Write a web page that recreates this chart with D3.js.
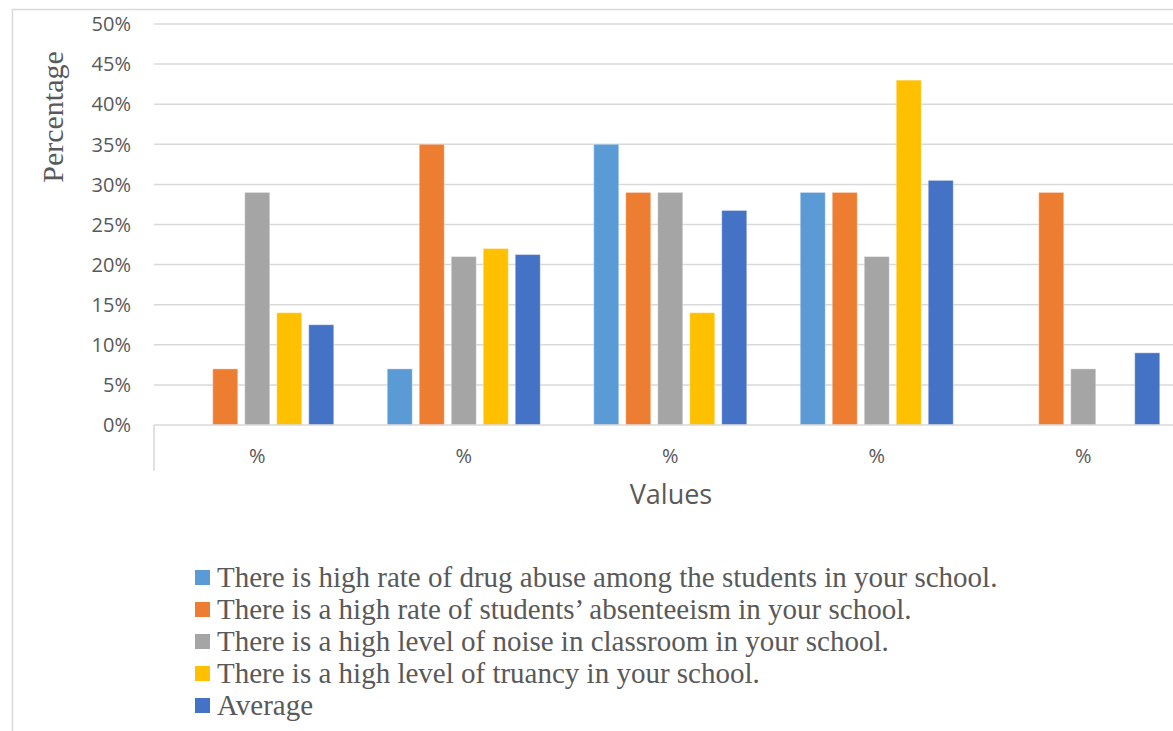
<!DOCTYPE html>
<html>
<head>
<meta charset="utf-8">
<script src="https://cdn.jsdelivr.net/npm/d3@7"></script>
<style>
  html, body { margin: 0; padding: 0; background: #fff; }
  svg { display: block; }
</style>
</head>
<body>
<svg id="chart" width="1173" height="731"></svg>
<script>
// Category labels along the x axis
const categories = ["%", "%", "%", "%", "%"];

// Series names (legend order)
const seriesNames = [
  "There is high rate of drug abuse among the students in your school.",
  "There is a high rate of students\u2019 absenteeism in your school.",
  "There is a high level of noise in classroom in your school.",
  "There is a high level of truancy in your school.",
  "Average"
];

// Values per series (percent), one per category
const drugAbuse   = [0, 7, 35, 29, 0];
const absenteeism = [7, 35, 29, 29, 29];
const noise       = [29, 21, 29, 21, 7];
const truancy     = [14, 22, 14, 43, 0];
const average     = [12.5, 21.25, 26.75, 30.5, 9];

const yTicks = [0, 5, 10, 15, 20, 25, 30, 35, 40, 45, 50];
const colors = ["#5B9BD5", "#ED7D31", "#A5A5A5", "#FFC000", "#4472C4"];

const seriesValues = [drugAbuse, absenteeism, noise, truancy, average];

const svg = d3.select("#chart");

// outer chart-area frame
svg.append("rect")
  .attr("x", 12.5).attr("y", 9.5)
  .attr("width", 1200).attr("height", 800)
  .attr("fill", "none").attr("stroke", "#d9d9d9").attr("stroke-width", 1.5);

const plot = { left: 154, right: 1186.5, top: 24, bottom: 425 };

const y = d3.scaleLinear().domain([0, 50]).range([plot.bottom, plot.top]);
const x0 = d3.scaleBand().domain(d3.range(categories.length))
  .range([plot.left, plot.right]).paddingInner(0).paddingOuter(0);

// bar slots: 5 bars of width 25 on a 32px step, centred in each category
const groupWidth = 32 * 5 - 7;
const x1 = d3.scaleBand().domain(d3.range(seriesNames.length))
  .range([(x0.bandwidth() - groupWidth) / 2, (x0.bandwidth() + groupWidth) / 2])
  .paddingInner(7 / 32).paddingOuter(0);

// gridlines
svg.append("g")
  .selectAll("line")
  .data(yTicks.filter(d => d > 0))
  .join("line")
  .attr("x1", plot.left).attr("x2", plot.right)
  .attr("y1", d => y(d)).attr("y2", d => y(d))
  .attr("stroke", "#d9d9d9").attr("stroke-width", 1.5);

// y tick labels
svg.append("g")
  .selectAll("text")
  .data(yTicks)
  .join("text")
  .attr("x", 131).attr("y", d => y(d))
  .attr("dy", "0.36em")
  .attr("text-anchor", "end")
  .attr("font-family", "'Open Sans', sans-serif")
  .attr("font-size", 20)
  .attr("fill", "#595959")
  .text(d => d + "%");

// bars
const groups = svg.append("g")
  .selectAll("g")
  .data(categories.map((c, i) => i))
  .join("g")
  .attr("transform", i => `translate(${x0(i)},0)`);

groups.selectAll("rect")
  .data(i => seriesValues.map((vals, s) => ({ s, v: vals[i] })).filter(d => d.v > 0))
  .join("rect")
  .attr("x", d => x1(d.s))
  .attr("width", x1.bandwidth())
  .attr("y", d => y(d.v))
  .attr("height", d => y(0) - y(d.v))
  .attr("fill", d => colors[d.s])
  .attr("stroke", "#fff").attr("stroke-opacity", 0.35).attr("stroke-width", 1);

// x axis line and left category tick
svg.append("line")
  .attr("x1", plot.left).attr("x2", plot.right)
  .attr("y1", plot.bottom).attr("y2", plot.bottom)
  .attr("stroke", "#d9d9d9").attr("stroke-width", 1.5);
svg.append("line")
  .attr("x1", plot.left).attr("x2", plot.left)
  .attr("y1", plot.bottom).attr("y2", 471)
  .attr("stroke", "#d9d9d9").attr("stroke-width", 1.5);

// category labels
svg.append("g")
  .selectAll("text")
  .data(categories.map((c, i) => ({ c, i })))
  .join("text")
  .attr("x", d => x0(d.i) + x0.bandwidth() / 2)
  .attr("y", 456)
  .attr("dy", "0.36em")
  .attr("text-anchor", "middle")
  .attr("font-family", "'Open Sans', sans-serif")
  .attr("font-size", 20)
  .attr("fill", "#595959")
  .text(d => d.c);

// axis titles
svg.append("text")
  .attr("x", 671).attr("y", 494)
  .attr("dy", "0.36em")
  .attr("text-anchor", "middle")
  .attr("font-family", "'Open Sans', sans-serif")
  .attr("font-size", 27)
  .attr("fill", "#595959")
  .text("Values");

svg.append("text")
  .attr("transform", "translate(52,117) rotate(-90)")
  .attr("dy", "0.36em")
  .attr("text-anchor", "middle")
  .attr("font-family", "'Liberation Serif', 'Times New Roman', serif")
  .attr("font-size", 30)
  .attr("fill", "#595959")
  .text("Percentage");

// legend
const legend = svg.append("g")
  .selectAll("g")
  .data(seriesNames.map((n, i) => ({ n, i })))
  .join("g")
  .attr("transform", d => `translate(195,${577 + d.i * 32})`);

legend.append("rect")
  .attr("x", 0).attr("y", -7)
  .attr("width", 15).attr("height", 15)
  .attr("fill", d => colors[d.i]);

legend.append("text")
  .attr("x", 22).attr("y", 0)
  .attr("dy", "0.33em")
  .attr("font-family", "'Liberation Serif', 'Times New Roman', serif")
  .attr("font-size", 29)
  .attr("fill", "#595959")
  .text(d => d.n);
</script>
</body>
</html>
